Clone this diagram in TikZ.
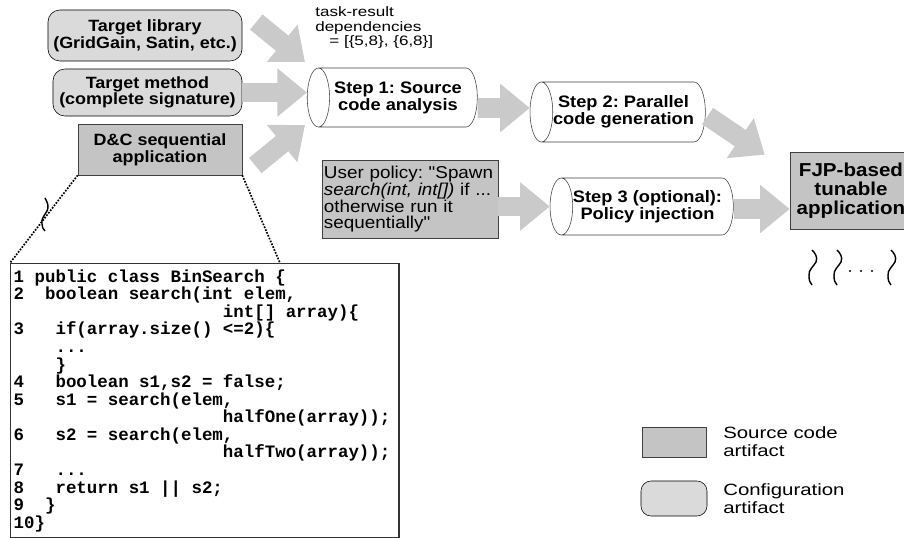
\documentclass[tikz,border=0pt]{standalone}
\usepackage{fontspec}
\newfontfamily\dfont{Liberation Sans}[FakeStretch=1.1]
\newfontfamily\wfont{Liberation Sans}[FakeStretch=1.25]
\newfontfamily\cfont{Liberation Mono}
\usetikzlibrary{calc,shapes.geometric,arrows.meta}
\frenchspacing

\definecolor{cfggray}{HTML}{DADADA}
\definecolor{srcgray}{HTML}{C4C4C4}
\definecolor{arrgray}{HTML}{CACACA}

\newcommand\cgap[1]{\hspace*{#1\fontcharwd\font`0}}

\tikzset{
  cfgbox/.style={draw=black, fill=cfggray, rounded corners=3mm, align=center, inner sep=0pt,
    font=\dfont\bfseries\fontsize{11.6}{11.8}\selectfont},
  srcbox/.style={draw=black!75, fill=srcgray, align=center, inner sep=0pt,
    font=\dfont\bfseries\fontsize{11.6}{11.8}\selectfont},
  stepcyl/.style={cylinder, shape border rotate=180, aspect=0.7, draw=black!75, fill=white,
    align=center, inner sep=0pt, font=\dfont\bfseries\fontsize{11.8}{10.8}\selectfont},
  bigarrow/.style={draw=arrgray, line width=14pt, -{Triangle[length=21pt,width=33pt]}},
  zoomline/.style={densely dotted, line width=1.2pt},
  squig/.style={line width=1pt}
}

\begin{document}
\begin{tikzpicture}[x=0.025cm, y=-0.025cm]
  \useasboundingbox (0,0) rectangle (904,538);

  % inputs
  \node[cfgbox, minimum width=48.5mm, minimum height=12.75mm] (tlib) at (145,35.5)
    {Target library\\(GridGain, Satin, etc.)};
  \node[cfgbox, minimum width=47.25mm, minimum height=11.75mm] (tmeth) at (147.5,92.5)
    {Target method\\(complete signature)};
  \node[srcbox, minimum width=41mm, minimum height=12.75mm] (dnc) at (160,149.5)
    {D\&C sequential\\application};

  \node[anchor=north west, align=left, inner sep=0pt,
    font=\wfont\fontsize{9.7}{10.6}\selectfont] (deps) at (315,6)
    {task-result\\dependencies\\\hspace*{10pt}= [\{5,8\}, \{6,8\}]};

  % steps (rotated cylinders: height runs along the axis)
  \node[stepcyl, minimum height=42.5mm, minimum width=14.75mm] (step1) at (398,97.5)
    {Step 1: Source\\code analysis};
  \node[stepcyl, minimum height=43.25mm, minimum width=15mm] (step2) at (623.5,112)
    {Step 2: Parallel\\code generation};
  \node[stepcyl, minimum height=44.75mm, minimum width=14.25mm] (step3) at (647.5,206.5)
    {Step 3 (optional):\\Policy injection};

  \node[srcbox, minimum width=44mm, minimum height=19.5mm, align=left, inner xsep=0.5mm,
    text width=43mm, font=\dfont\fontsize{12.2}{11.2}\selectfont] (policy) at (410,199)
    {User policy: "Spawn\\\textit{search(int, int[])} if ...\\otherwise run it\\sequentially"};

  \node[srcbox, minimum width=30.5mm, minimum height=19.25mm,
    font=\dfont\bfseries\fontsize{13.3}{13.5}\selectfont] (fjp) at (851,190.5)
    {FJP-based\\tunable\\application};

  % fat arrows
  \draw[bigarrow] ($(tlib.east)+(14,-13.5)$) -- ($(step1.center)+(-93,-35.5)$);
  \draw[bigarrow] (tmeth.east) -- (tmeth.east -| step1.west);
  \draw[bigarrow] ($(dnc.east)+(13,16)$) -- ($(step1.center)+(-93,27.5)$);
  \draw[bigarrow] ($(step1.east)+(0,10.5)$) -- ($(step2.west)+(0,-4)$);
  \draw[bigarrow] ($(step2.east)+(2,4)$) -- ($(fjp.north west)+(-25,3)$);
  \draw[bigarrow] (policy.east |- step3.west) -- (step3.west);
  \draw[bigarrow] ($(step3.east)+(0,2.5)$) -- ($(step3.east -| fjp.west)+(0,2.5)$);

  % source code
  \node[draw=black!80, line width=1pt, fill=white, anchor=north west, minimum width=97mm,
    minimum height=68.5mm, text width=95.5mm, align=left, inner xsep=0.5mm,
    font=\cfont\bfseries\fontsize{12.4}{12.5}\selectfont] (code) at (10,263)
    {1\cgap1public\cgap1class\cgap1BinSearch\cgap1\{\\
     2\cgap2boolean\cgap1search(int\cgap1elem,\\
     \cgap{20}int[]\cgap1array)\{\\
     3\cgap3if(array.size()\cgap1<=2)\{\\
     \cgap4...\\
     \cgap4\}\\
     4\cgap3boolean\cgap1s1,s2\cgap1=\cgap1false;\\
     5\cgap3s1\cgap1=\cgap1search(elem,\\
     \cgap{20}halfOne(array));\\
     6\cgap3s2\cgap1=\cgap1search(elem,\\
     \cgap{20}halfTwo(array));\\
     7\cgap3...\\
     8\cgap3return\cgap1s1\cgap1||\cgap1s2;\\
     9\cgap2\}\\
     10\}};

  \coordinate (codetop) at ($(code.north west)+(270,0)$);
  \draw[zoomline] (dnc.south west) -- (code.north west);
  \draw[zoomline] (dnc.south east) -- (codetop);
  \draw[squig] (45,198) .. controls (48,203) and (49,207) .. (47,211)
    .. controls (44,216) and (41,219) .. (42,224) .. controls (42,227) and (43,229) .. (45,231);

  % tuning variants
  \foreach \sx in {812,837,891}
    \draw[squig, xshift=\sx*0.025cm] (0,250) .. controls (3,253) and (6,257) .. (4,262)
      .. controls (2,266) and (-4,270) .. (-3,276) .. controls (-3,280) and (-2,283) .. (0,285);
  \foreach \dx in {850,861,872}
    \fill (\dx,271) circle (1.1);

  % legend
  \node[srcbox, minimum width=16mm, minimum height=7.5mm] (lsrc) at (674,442) {};
  \node[cfgbox, minimum width=16.5mm, minimum height=8.75mm, rounded corners=2.5mm] (lcfg) at (674,498.5) {};
  \node[anchor=west, align=left, inner sep=0pt, font=\wfont\fontsize{11.6}{12.8}\selectfont]
    (lsrctxt) at (723,442) {Source code\\artifact};
  \node[anchor=west, align=left, inner sep=0pt, font=\wfont\fontsize{11.6}{12.8}\selectfont]
    (lcfgtxt) at (723,499) {Configuration\\artifact};
\end{tikzpicture}
\end{document}
